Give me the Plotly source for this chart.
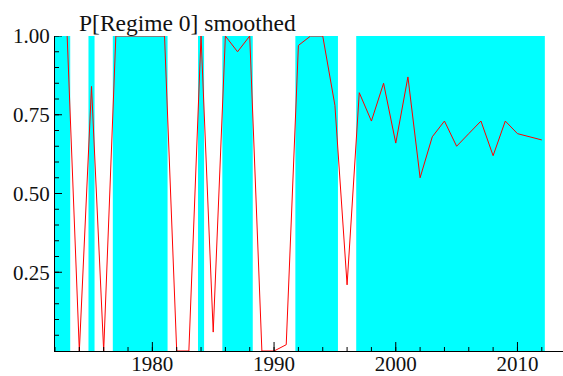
import plotly.graph_objects as go

# Smoothed probability of regime 0 (annual)
years = list(range(1973, 2013))
prob_regime0 = [
    1.00, 0.00, 0.84, 0.00, 1.00, 1.00, 1.00, 1.00, 1.00, 0.00,   # 1973-1982
    0.00, 1.00, 0.06, 1.00, 0.95, 1.00, 0.00, 0.00, 0.02, 0.97,   # 1983-1992
    1.00, 1.00, 0.78, 0.21, 0.82, 0.73, 0.85, 0.66, 0.87, 0.55,   # 1993-2002
    0.68, 0.73, 0.65, 0.69, 0.73, 0.62, 0.73, 0.69, 0.68, 0.67,   # 2003-2012
]

# Periods classified as regime 0 (first year, last year)
regime0_periods = [
    (1972, 1973), (1975, 1975), (1977, 1981), (1984, 1984),
    (1986, 1988), (1992, 1995), (1997, 2012),
]

# Axis tick definitions
x_major_ticks = [1980, 1990, 2000, 2010]
x_minor_ticks = list(range(1972, 2013, 2))
y_major_ticks = [0.25, 0.50, 0.75, 1.00]
y_minor_ticks = [round(0.05 * i, 2) for i in range(1, 21)]

title_text = "P[Regime 0] smoothed"

FONT = "Liberation Serif"
TXT = "#111111"
X0, X1 = 1972, 1972 + 508 / 12.17
PX_PER_YEAR = 508 / (X1 - X0)
PX_PER_UNIT = 315.0

fig = go.Figure()

shapes = []
for a, b in regime0_periods:
    shapes.append(dict(
        type="rect", xref="x", yref="paper",
        x0=a - 0.25, x1=b + 0.25, y0=0, y1=1,
        fillcolor="#00FFFF", line=dict(width=0), layer="below",
    ))

fig.add_trace(go.Scatter(
    x=years, y=prob_regime0, mode="lines",
    line=dict(color="#FF0000", width=1),
    showlegend=False, hoverinfo="skip",
))


def xticks(vals, length_px):
    return go.Scatter(
        x=vals, y=[0] * len(vals), mode="markers",
        marker=dict(size=1, opacity=0),
        error_y=dict(type="data", symmetric=False,
                     array=[length_px / PX_PER_UNIT] * len(vals),
                     arrayminus=[0] * len(vals),
                     color="black", thickness=1, width=0),
        cliponaxis=False, showlegend=False, hoverinfo="skip",
    )


def yticks(vals, length_px):
    return go.Scatter(
        x=[X0] * len(vals), y=vals, mode="markers",
        marker=dict(size=1, opacity=0),
        error_x=dict(type="data", symmetric=False,
                     array=[length_px / PX_PER_YEAR] * len(vals),
                     arrayminus=[0] * len(vals),
                     color="black", thickness=1, width=0),
        cliponaxis=False, showlegend=False, hoverinfo="skip",
    )


fig.add_trace(xticks(x_minor_ticks, 4))
fig.add_trace(xticks(x_major_ticks, 9))
fig.add_trace(yticks(y_minor_ticks, 4))
fig.add_trace(yticks(y_major_ticks, 7))

fig.update_layout(
    width=563, height=376,
    margin=dict(l=55, r=0, t=36, b=25, autoexpand=False),
    paper_bgcolor="white", plot_bgcolor="white",
    shapes=shapes,
    showlegend=False,
    annotations=[dict(
        text=title_text, xref="paper", yref="paper",
        x=(77 - 55) / 508, y=1, xanchor="left", yanchor="bottom",
        showarrow=False, font=dict(family=FONT, size=23.5, color=TXT),
        yshift=-2,
    )],
    xaxis=dict(
        range=[X0, X1], tickmode="array", tickvals=x_major_ticks,
        ticktext=[str(v) for v in x_major_ticks],
        ticks="inside", ticklen=9, tickcolor="rgba(0,0,0,0)",
        showline=True, linecolor="black", linewidth=1,
        showgrid=False, zeroline=False, automargin=False,
        ticklabelstandoff=-6,
        tickfont=dict(family=FONT, size=21, color=TXT),
    ),
    yaxis=dict(
        range=[0, 1], tickmode="array", tickvals=y_major_ticks,
        ticktext=["%.2f" % v for v in y_major_ticks],
        ticks="inside", ticklen=7, tickcolor="rgba(0,0,0,0)",
        showline=True, linecolor="black", linewidth=1,
        showgrid=False, zeroline=False, automargin=False,
        tickfont=dict(family=FONT, size=21, color=TXT),
    ),
)

fig.write_html("out.html")
